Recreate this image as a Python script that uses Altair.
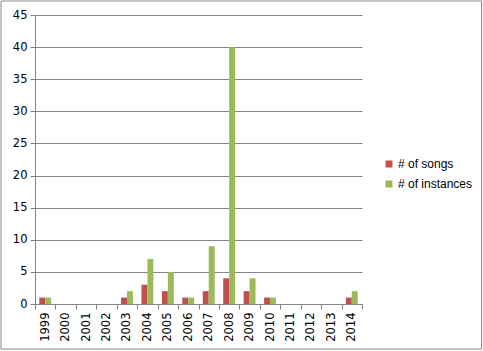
import altair as alt
import pandas as pd

years = ["1999", "2000", "2001", "2002", "2003", "2004", "2005", "2006",
         "2007", "2008", "2009", "2010", "2011", "2012", "2013", "2014"]
songs = [1, 0, 0, 0, 1, 3, 2, 1, 2, 4, 2, 1, 0, 0, 0, 1]
instances = [1, 0, 0, 0, 2, 7, 5, 1, 9, 40, 4, 1, 0, 0, 0, 2]
series = ["# of songs", "# of instances"]
colors = ["#C0504D", "#9BBB59"]

rows = []
for y, s, i in zip(years, songs, instances):
    rows.append({"year": y, "series": series[0], "value": s})
    rows.append({"year": y, "series": series[1], "value": i})
df = pd.DataFrame(rows)

grey = "#868686"

bars = alt.Chart(df).mark_bar().encode(
    x=alt.X("year:N", sort=years, title=None,
            scale=alt.Scale(paddingInner=0, paddingOuter=0),
            axis=alt.Axis(labelAngle=-90, labelFont="DejaVu Sans", labelFontSize=11.5,
                          labelColor="#000000", domainColor=grey, tickColor=grey,
                          tickBand="extent", tickSize=5, labelPadding=3,
                          grid=False)),
    xOffset=alt.XOffset("series:N", sort=series,
                        scale=alt.Scale(paddingInner=0, paddingOuter=0.72)),
    y=alt.Y("value:Q", title=None,
            scale=alt.Scale(domain=[0, 45]),
            axis=alt.Axis(values=list(range(0, 46, 5)), labelFont="DejaVu Sans",
                          labelFontSize=11.5, labelColor="#000000", domainColor=grey,
                          tickColor=grey, tickSize=5, gridColor=grey, labelPadding=3)),
    color=alt.Color("series:N", sort=series,
                    scale=alt.Scale(domain=series, range=colors),
                    legend=alt.Legend(title=None, orient="none", legendX=348,
                                      legendY=143, symbolType="square",
                                      symbolSize=49, symbolStrokeWidth=0,
                                      labelFont="Liberation Sans", labelFontSize=12,
                                      labelColor="#000000", rowPadding=8,
                                      symbolOffset=0, labelOffset=3)),
)

border = alt.Chart(pd.DataFrame({"a": [0]})).mark_rect(
    fill=None, stroke="#888888", strokeWidth=1, clip=False
).encode(x=alt.value(-34), x2=alt.value(446.5), y=alt.value(-14), y2=alt.value(334))

chart = alt.layer(bars, border).properties(
    width=327, height=289,
    autosize=alt.AutoSizeParams(type="none"),
    padding={"left": 35, "top": 15, "right": 121, "bottom": 47},
    background="#ffffff",
).configure_view(stroke=None)

chart.save("out.html", embed_options={"renderer": "svg", "actions": False})
